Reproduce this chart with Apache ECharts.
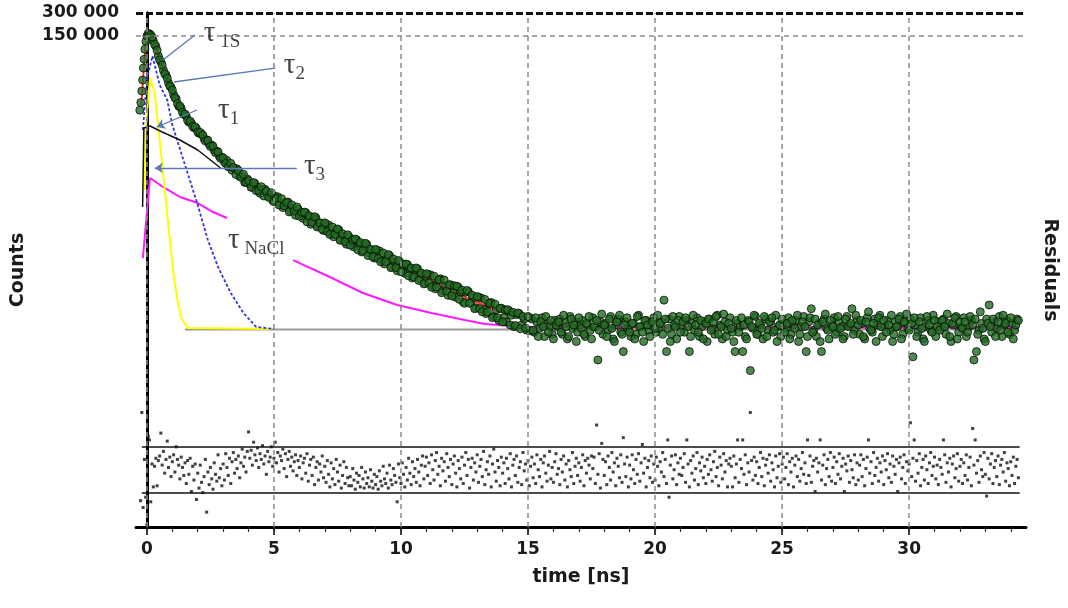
<!DOCTYPE html>
<html>
<head>
<meta charset="utf-8">
<script src="https://cdn.jsdelivr.net/npm/echarts@6/dist/echarts.min.js"></script>
<style>
html,body{margin:0;padding:0;background:#fff;}
#chart{width:1068px;height:608px;}
</style>
</head>
<body>
<div id="chart"></div>
<script>
// ---------------- DATA ----------------
const timeMin = -0.43, timeMax = 34.6;               // ns, visible range of the time axis
const countsMin = 2.31, countsMax = 300000;          // log axis range of the decay panel
const residualMin = -5, residualMax = 6;             // residual panel range

const xTickValues = [0, 5, 10, 15, 20, 25, 30];
const xMinorTicks = [0,1,2,3,4,5,6,7,8,9,10,11,12,13,14,15,16,17,18,19,20,21,22,23,24,25,26,27,28,29,30,31,32,33,34];
const countLevels = [300000, 150000];
const countLevelLabels = ['300 000', '150 000'];
const residualLimits = [-2, 2];
const residualLineSpan = [-0.2, 34.35];

// measured decay: rising edge channels
const riseTimes  = [-0.28, -0.24, -0.2, -0.17, -0.14, -0.11, -0.08, -0.04, 0.0, 0.05, 0.1];
const riseCounts = [15000, 19000, 27000, 38000, 55000, 72000, 98000, 125000, 148000, 160000, 158000];

// measured decay, channel set A: from 0.15 ns every 0.1 ns
const channelStartA = 0.15, channelStep = 0.1;
const decayCountsA = [
 152000,128000,108000,80000,67000,51500,44500,34800,30400,24100,
 21400,17000,15900,13200,12500,10400,10100,8750,8500,7350,
 7200,6200,6050,5250,5100,4350,4250,3620,3520,3060,
 3190,2640,2360,2510,2440,1950,1950,1620,1800,1550,
 1395,1560,1390,1160,1310,1310,1065,1110,930,1050,
 1040,834,746,868,884,674,722,589,712,600,
 533,640,557,445,536,546,423,458,368,444,
 437,338,303,367,375,275,305,241,305,251,
 221,277,241,190,235,241,182,201,157,199,
 196,146,131,165,170,120,138,106,140,112,
 98,129,111,85,110,113,83,95,72,95,
 94,67,61,80,83,57,67,50,69,54,
 47,64,55,40.5,55,56,40,46.7,34,47,
 46,32,28.4,39,40,26,32,23,33.5,25,
 22,31,27,19,27.5,28.4,20,24,17,25,
 24,16,22,18,25,14,21,19,15,23,
 19,24,15,21,13,26,18,22,16,20,
 23,14,20,17,25,19,6.8,22,15,21,
 17,26,13,20,24,16,8.8,22,18,14,
 21,15,27,19,12,23,17,20,25,16,
 18,22,43,8.8,24,15,20,13,26,19,
 16,23,8.8,21,17,25,14,19,22,12,
 24,18,15,27,20,13,22,17,25,16,
 8.8,21,19,8.8,14,23,4.9,18,26,15,
 20,13,24,17,22,16,27,19,14,21,
 18,25,15,20,23,12,19,26,8.8,22,
 33,17,14,21,8.8,24,18,13,20,25,
 16,22,19,14,26,20,33,17,23,15,
 21,13,25,18,16,24,20,27,14,19,
 23,17,12,22,19,26,15,21,18,24,
 7.5,20,16,25,13,19,23,17,27,14,
 22,18,24,15,21,12,20,26,16,19,
 25,14,19,23,6.8,8.8,17,21,13,24,
 37,16,22,18,26,14,20,23,15,21,
 17,24
];

// measured decay, channel set B: from 0.2 ns every 0.1 ns
const channelStartB = 0.2;
const decayCountsB = [
 143000,114000,95000,71000,60500,46200,40300,31500,27900,22000,
 18500,17000,14000,13300,11000,10700,9100,8950,7650,7550,
 6950,5800,5900,4900,4950,4050,4150,3400,3450,2900,
 2620,2915,2570,2070,2330,1900,2080,1620,1710,1390,
 1610,1255,1265,1420,1065,1230,1020,1180,895,985,
 807,980,788,872,652,811,671,761,570,641,
 648,481,577,472,563,409,467,384,466,356,
 326,409,327,386,272,332,261,322,234,276,
 283,203,254,198,248,170,206,164,206,155,
 140,184,141,175,117,153,117,146,103,128,
 131,91,116,88,116,79,99,71,97,73,
 64,90,64,81,54,80,57,69,49,67,
 66,44,58.5,39,58,39,50,33,48,33,
 30,44,30,39,25,38,25,33.5,22,32,
 32,20,29.5,19.7,29,17.8,26,18.2,26,16.7,
 17,25,14,22,19,26,16,23,13,20,
 22,16,27,19,14,24,20,12,25,18,
 15,21,26,13,19,23,17,28,20,14,
 24,18,12,22,27,15,20,25,16,21,
 13,26,19,16,23,20,14,22,18,27,
 21,15,24,18,12,26,19,23,16,22,
 25,19,14,27,20,16,23,13,21,24,
 17,22,26,15,19,28,14,21,18,12,
 23,16,25,20,13,22,19,27,15,21,
 18,26,14,22,25,17,12,20,24,16,
 21,13,23,18,27,15,22,19,14,25,
 16,24,20,12,22,28,17,23,19,15,
 26,18,13,24,19,21,15,27,20,23,
 14,22,30,17,21,12,25,19,23,16,
 20,27,15,19,24,13,22,28,17,21,
 25,14,22,18,12,26,20,16,23,19,
 17,23,19,28,14,21,25,13,22,18,
 22,16,26,20,24,15,30,18,12,21,
 19,24,14,22,17,27,21,16,25,13,
 20,23
];

// weighted residuals, from -0.25 ns every 0.05 ns
const residualStart = -0.25, residualStep = 0.05;
const residuals = [
 -2.7,5.0,-3.3,0.9,-2.4,
 -4.8,2.9,2.6,-2.8,0.5,-1.5,0.3,1.0,-1.4,0.8,1.2,3.2,0.4,1.6,-0.3,0.9,2.5,0.2,1.1,-0.6,
 0.7,1.3,-0.2,2.0,0.9,0.4,-0.8,1.1,0.2,-0.5,0.6,-1.2,0.8,-0.4,1.0,-1.9,0.3,-0.9,0.5,-2.6,
 -0.3,-1.6,0.4,-1.1,-2.0,-0.6,0.9,-3.7,-0.2,-1.3,0.2,-0.8,-1.7,0.6,-0.4,-1.0,1.3,-0.7,0.1,-1.4,
 0.5,-0.9,1.4,0.2,-0.5,1.0,-1.2,0.7,1.5,-0.3,0.9,0.1,1.2,-0.7,0.6,1.8,0.3,1.1,-0.2,1.6,
 3.3,1.0,1.7,0.4,2.4,1.3,0.8,1.9,0.2,1.4,0.9,2.1,0.5,1.2,-0.4,1.6,0.7,1.1,2.0,0.3,
 1.0,2.4,0.6,1.5,-0.2,1.2,0.8,1.8,0.1,1.4,-0.6,0.9,1.6,0.3,1.1,-0.1,0.7,1.3,-0.5,0.8,
 0.2,1.2,-0.8,0.6,1.0,-0.3,1.4,-1.0,0.4,0.9,-0.5,1.1,-1.3,0.2,0.7,-0.9,0.5,-0.2,1.2,-0.7,
 0.3,-1.1,0.8,-0.4,-1.5,0.6,-0.8,0.1,-1.3,0.9,-0.2,-1.0,0.4,-1.6,-0.5,0.7,-1.2,0.2,-0.7,-1.4,
 -0.6,-1.4,0.1,-0.9,-1.7,-0.3,-1.1,-0.5,-1.5,0.2,-0.8,-1.6,-0.2,-1.2,-0.7,-1.5,0.0,-1.0,-1.6,-0.4,
 -1.3,-0.6,-1.7,-0.1,-1.0,-1.4,0.3,-0.8,-1.2,-0.3,-1.6,0.4,-0.9,-1.3,0.1,-0.5,-1.1,-2.8,0.5,-0.7,
 -1.2,0.6,-0.4,-1.5,0.2,-0.9,1.0,-0.3,-1.3,0.7,-0.6,0.1,-1.1,0.9,-0.2,-1.4,0.4,1.2,-0.8,0.3,
 1.1,-0.5,0.6,-1.2,1.3,0.0,-0.9,0.8,1.5,-0.4,0.3,-1.4,1.0,-0.1,0.7,-1.0,1.4,0.2,-0.6,0.9,
 -1.3,0.5,1.2,-0.3,-1.5,0.8,0.1,-0.8,1.1,-1.2,0.4,1.5,-0.5,0.9,-1.6,0.2,1.0,-0.9,0.6,-0.2,
 1.3,-1.1,0.3,0.9,-0.6,1.6,-1.3,0.0,0.7,-0.4,1.2,-1.5,0.5,1.8,-0.2,-1.0,0.8,0.2,-1.4,1.1,
 -0.3,0.6,-1.2,1.0,0.1,-0.8,1.4,-1.5,0.4,0.9,-0.5,1.2,-1.1,0.2,0.7,-1.3,1.5,-0.1,0.5,-0.9,
 0.8,-1.4,0.3,1.1,-0.7,0.5,-1.2,1.3,0.0,-0.6,0.9,-1.5,0.6,1.2,-0.3,-1.0,0.4,1.6,-0.8,0.2,
 -1.1,0.7,1.4,-0.4,0.1,-1.3,0.9,-0.2,1.2,-0.9,0.5,-1.5,0.8,0.0,-0.6,1.5,-1.2,0.3,1.0,-0.5,
 0.6,-1.0,0.2,1.3,-1.4,0.8,-0.3,1.0,0.4,-0.8,1.2,0.1,1.1,-1.2,3.9,-0.4,1.4,-1.6,2.3,0.9,
 -0.5,0.7,-1.3,1.2,0.2,-0.9,1.5,-0.2,0.6,-1.4,1.0,0.3,-0.7,1.3,-1.1,2.8,0.5,-0.6,1.1,-1.5,
 0.4,-0.8,1.3,0.0,-1.2,0.9,-0.4,1.4,-1.0,0.6,2.2,-0.3,1.0,-1.5,0.2,0.8,-0.7,1.2,-1.1,0.5,
 -0.9,1.1,0.3,-1.4,0.7,-0.2,1.5,-0.6,0.9,-1.2,2.6,-2.4,0.4,1.2,-0.8,0.0,1.3,-1.3,0.6,-0.4,
 1.0,-0.5,0.2,1.4,-1.1,2.6,0.5,-1.5,0.8,-0.3,1.2,-0.9,0.1,1.5,-1.3,0.6,-0.1,1.1,-0.7,0.3,
 -1.2,0.9,-0.4,1.3,0.0,-1.0,0.7,1.6,-0.6,0.2,-1.4,1.1,0.4,-0.8,1.4,-0.2,0.8,-1.5,0.5,1.0,
 0.3,-1.5,1.2,-0.7,0.5,2.6,-1.1,0.9,0.1,2.6,-0.4,1.3,-1.3,0.6,-0.2,5.0,0.8,-0.9,1.1,-0.5,
 0.7,-1.2,0.2,1.5,-0.6,1.0,-1.4,0.4,0.9,-0.3,1.3,-1.0,0.6,0.0,-1.5,1.2,-0.7,0.3,1.4,-1.1,
 0.5,1.1,-0.8,0.2,1.4,-1.3,0.7,-0.2,1.0,-1.5,0.4,1.2,-0.6,0.9,-1.0,0.1,1.5,-0.4,0.6,-1.2,
 2.6,-0.5,1.2,-1.1,0.3,0.8,-1.9,1.0,-0.2,0.6,2.6,-0.9,0.4,1.3,-1.3,0.1,0.9,-0.6,1.5,-1.0,
 0.2,1.1,-1.2,0.7,-0.4,1.4,-0.8,0.3,1.0,-1.9,0.5,-0.1,1.2,-1.1,0.8,0.0,-0.7,1.3,-1.3,0.6,
 -0.9,0.4,1.3,-0.6,0.9,-1.4,0.1,1.1,2.6,-0.3,0.7,-1.2,1.5,-0.5,0.2,1.0,-1.0,0.6,-0.2,1.2,
 -1.3,0.8,0.0,1.4,-0.7,0.5,-1.1,1.2,0.3,-0.4,0.9,-1.9,0.6,1.1,-0.8,0.2,1.3,-1.2,0.7,-0.1,
 0.5,4.1,-0.6,1.0,2.6,-1.0,0.8,-0.3,1.4,-1.4,0.2,0.9,-0.9,1.2,0.0,-1.2,0.6,1.5,-0.5,0.3,
 1.1,-0.8,0.4,-1.3,0.9,0.2,-0.4,2.6,1.3,-1.1,0.6,-0.2,1.0,-1.5,0.5,1.2,-0.7,0.1,1.4,-1.0,
 0.3,0.9,-1.2,0.6,-0.5,1.3,-0.9,0.2,1.1,-1.4,3.6,0.4,2.6,-0.3,0.8,-1.1,1.2,0.0,-0.6,1.5,
 -0.4,-2.3,1.0,-0.8,0.5,1.4,-1.2,0.2,0.8,-0.6,1.2,-1.3,0.4,0.9,-0.2,1.5,-1.0,0.6,0.1,-1.4,
 0.7,-0.5,1.1,-1.2,0.3,0.9,-0.7
];

// fitted curves
const fitTimes  = [-0.22, -0.15, -0.1, -0.05, 0.05, 0.15, 0.3, 0.5, 0.8, 1.2, 1.7, 2.5, 3.0, 4.0, 5.0, 6.3, 7.9, 9.0, 10, 11.3, 12.6, 13.9, 15.2, 16.5, 17.5, 34.3];
const fitCounts = [17600, 40000, 70000, 110000, 155000, 150000, 118000, 72000, 38000, 18700, 10100, 5130, 3230, 1590, 971, 541, 274, 178, 119, 75, 46, 29.8, 23.3, 19.4, 18.5, 18.5];

const irfTimes  = [-0.1, -0.06, 0.12, 0.3, 0.5, 0.7, 0.9, 1.05, 1.2, 1.35, 1.6, 4.9];
const irfCounts = [1281, 8000, 40460, 26280, 5985, 1281, 274, 93, 43, 24.8, 18.2, 17.7];

const tau2Times  = [-0.16, 0.0, 0.22, 0.5, 0.8, 1.0, 1.5, 2.0, 2.4, 2.8, 3.3, 3.8, 4.3, 5.0];
const tau2Counts = [8146, 40000, 79700, 32600, 20530, 9510, 2770, 807, 274, 119, 53.6, 28.9, 18.8, 17.7];

const tau1Times  = [-0.17, -0.12, 0.12, 0.6, 1.3, 2.0, 2.6, 2.9];
const tau1Counts = [759, 8670, 9210, 7660, 5985, 4397, 3036, 2524];

const naclTimes  = [-0.16, 0.12, 0.63, 1.3, 2.0, 2.6, 3.15, 4.5, 5.75, 7.2, 8.5, 9.85, 11.2, 12.5, 13.3, 14.5, 15.4, 34.3];
const naclCounts = [157, 1854, 1407, 1033, 858, 650, 541, null, 148, 87.7, 53.6, 37, 28.9, 23.3, 20.6, 19.2, 18.7, 18.5];

const bgTimes  = [1.5, 34.3];
const bgCounts = [17.4, 17.4];

// annotations
const annotationTimes  = [2.24, 5.39, 2.8, 6.18, 3.19];
const annotationCounts = [152000, 56800, 14190, 2524, 258];
const annotationMain   = ['τ', 'τ', 'τ', 'τ', 'τ'];
const annotationSub    = [' 1S', '2', '1', '3', ' NaCl'];
const arrowFromTimes   = [1.89, 5.04, 1.97, 5.9];
const arrowFromCounts  = [152000, 55000, 15090, 2524];
const arrowToTimes     = [0.63, 1.06, 0.39, 0.31];
const arrowToCounts    = [70470, 35770, 8935, 2524];
const arrowHeads       = ['none', 'none', 'arrow', 'arrow'];

// ---------------- BUILD ----------------
const zip = (xs, ys) => xs.map((x, i) => [x, ys[i] === null ? '-' : ys[i]]);
const decayData = zip(riseTimes, riseCounts)
  .concat(decayCountsA.map((c, i) => [channelStartA + i * channelStep, c]))
  .concat(decayCountsB.map((c, i) => [channelStartB + i * channelStep, c]));
const residualData = residuals.map((r, i) => [residualStart + i * residualStep, r]);

const axisFont = 'DejaVu Sans';
const L = 136, R = 42;

const chart = echarts.init(document.getElementById('chart'), null, {renderer: 'canvas'});

const lineSeries = (name, data, color, width, z, type) => ({
  name, type: 'line', xAxisIndex: 2, yAxisIndex: 2, data, z,
  showSymbol: false, symbol: 'none', smooth: false, connectNulls: false,
  lineStyle: {color, width, type: type || 'solid'}, silent: true
});

const option = {
  animation: false,
  backgroundColor: '#fff',
  textStyle: {fontFamily: axisFont},
  grid: [
    {left: L, right: R, top: 13, bottom: 81},
    {left: L, right: R, top: 13, bottom: 213},
    {left: L, right: R, top: 401, bottom: 81}
  ],
  xAxis: [
    {
      gridIndex: 0, type: 'value', min: timeMin, max: timeMax, position: 'bottom',
      axisLine: {show: true, onZero: false, lineStyle: {color: '#000', width: 3}},
      axisTick: {show: true, customValues: xTickValues, length: 8, inside: false, lineStyle: {color: '#000', width: 1.5}},
      axisLabel: {show: true, customValues: xTickValues, margin: 14, fontSize: 17, fontWeight: 'bold', color: '#1a1a1a', fontFamily: axisFont},
      splitLine: {show: false},
      name: 'time [ns]', nameLocation: 'middle', nameGap: 41,
      nameTextStyle: {fontSize: 19, fontWeight: 'bold', color: '#1a1a1a', fontFamily: axisFont}
    },
    {
      gridIndex: 0, type: 'value', min: timeMin, max: timeMax, position: 'bottom',
      axisLine: {show: false},
      axisTick: {show: true, customValues: xMinorTicks, length: 5, inside: false, lineStyle: {color: '#333', width: 1.2}},
      axisLabel: {show: false}, splitLine: {show: false}
    },
    {gridIndex: 1, type: 'value', min: timeMin, max: timeMax, show: false},
    {gridIndex: 2, type: 'value', min: timeMin, max: timeMax, show: false}
  ],
  yAxis: [
    {
      gridIndex: 0, type: 'value', min: 0, max: 1, position: 'left',
      axisLine: {show: true, lineStyle: {color: '#000', width: 3}},
      axisTick: {show: false}, axisLabel: {show: false}, splitLine: {show: false},
      name: 'Counts', nameLocation: 'middle', nameRotate: 90, nameGap: 108,
      nameTextStyle: {fontSize: 19, fontWeight: 'bold', color: '#1a1a1a', fontFamily: axisFont}
    },
    {
      gridIndex: 0, type: 'value', min: 0, max: 1, position: 'right',
      axisLine: {show: true, lineStyle: {color: '#000', width: 3}},
      axisTick: {show: false}, axisLabel: {show: false}, splitLine: {show: false},
      name: 'Residuals', nameLocation: 'middle', nameRotate: -90, nameGap: 14,
      nameTextStyle: {fontSize: 19, fontWeight: 'bold', color: '#1a1a1a', fontFamily: axisFont}
    },
    {gridIndex: 1, type: 'log', logBase: 10, min: countsMin, max: countsMax, show: false},
    {gridIndex: 2, type: 'value', min: residualMin, max: residualMax, show: false}
  ],
  series: [
    {
      name: 'frame', type: 'line', xAxisIndex: 0, yAxisIndex: 0, data: [[0, 0.5]],
      symbol: 'none', lineStyle: {opacity: 0}, z: 1, silent: true,
      markLine: {
        silent: true, symbol: ['none', 'none'], label: {show: false},
        lineStyle: {color: '#8a8a8a', width: 1.5, type: [5, 4]},
        data: xTickValues.map(v => ({xAxis: v}))
      }
    },
    {
      name: 'levels', type: 'line', xAxisIndex: 2, yAxisIndex: 2, data: [[0, countsMax]],
      symbol: 'none', lineStyle: {opacity: 0}, z: 1, silent: true,
      markLine: {
        silent: true, symbol: ['none', 'none'],
        data: countLevels.map((v, i) => ({
          yAxis: v,
          lineStyle: i === 0 ? {color: '#111', width: 3, type: [7, 3]} : {color: '#8a8a8a', width: 1.5, type: [5, 4]},
          label: {show: true, position: 'start', distance: 17, formatter: countLevelLabels[i],
                  fontSize: 17, fontWeight: 'bold', color: '#1a1a1a', fontFamily: axisFont}
        }))
      }
    },
    lineSeries('background', zip(bgTimes, bgCounts), '#9a9a9a', 2, 2),
    lineSeries('fit', zip(fitTimes, fitCounts), '#ff2a2a', 2, 2),
    lineSeries('τ NaCl', zip(naclTimes, naclCounts), '#ff1aff', 2, 2),
    {
      name: 'decay', type: 'scatter', xAxisIndex: 2, yAxisIndex: 2, data: decayData, z: 3,
      symbol: 'circle', symbolSize: 8, silent: true,
      itemStyle: {color: '#236b23', borderColor: '#050f05', borderWidth: 1}
    },
    lineSeries('IRF', zip(irfTimes, irfCounts), '#ffff00', 2, 4),
    lineSeries('τ2', zip(tau2Times, tau2Counts), '#3535d8', 1.8, 4, [3, 2]),
    lineSeries('τ1', zip(tau1Times, tau1Counts), '#111111', 1.5, 4),
    {
      name: 'annotations', type: 'scatter', xAxisIndex: 2, yAxisIndex: 2, z: 6, silent: true,
      data: zip(annotationTimes, annotationCounts), symbolSize: 0,
      label: {
        show: true, position: 'right', distance: 0, align: 'left', verticalAlign: 'middle',
        formatter: p => '{t|' + annotationMain[p.dataIndex] + '}{s|' + annotationSub[p.dataIndex] + '}',
        rich: {
          t: {fontFamily: 'Liberation Serif', fontSize: 29, color: '#111', verticalAlign: 'bottom', padding: [0, 0, 4, 0]},
          s: {fontFamily: 'Liberation Serif', fontSize: 19, color: '#111', verticalAlign: 'bottom'}
        }
      },
      markLine: {
        silent: true, symbolSize: 8, label: {show: false},
        lineStyle: {color: '#5b79b4', width: 1.3, type: 'solid'},
        data: arrowFromTimes.map((t, i) => [
          {coord: [t, arrowFromCounts[i]], symbol: 'none'},
          {coord: [arrowToTimes[i], arrowToCounts[i]], symbol: arrowHeads[i]}
        ])
      }
    },
    {
      name: 'residuals', type: 'scatter', xAxisIndex: 3, yAxisIndex: 3, data: residualData, z: 3,
      symbol: 'rect', symbolSize: 3, silent: true, itemStyle: {color: '#111'},
      markLine: {
        silent: true, symbol: ['none', 'none'], label: {show: false},
        lineStyle: {color: '#111', width: 1.5, type: 'solid'},
        data: residualLimits.map(v => [{coord: [residualLineSpan[0], v]}, {coord: [residualLineSpan[1], v]}])
      }
    }
  ]
};
chart.setOption(option);
</script>
</body>
</html>
